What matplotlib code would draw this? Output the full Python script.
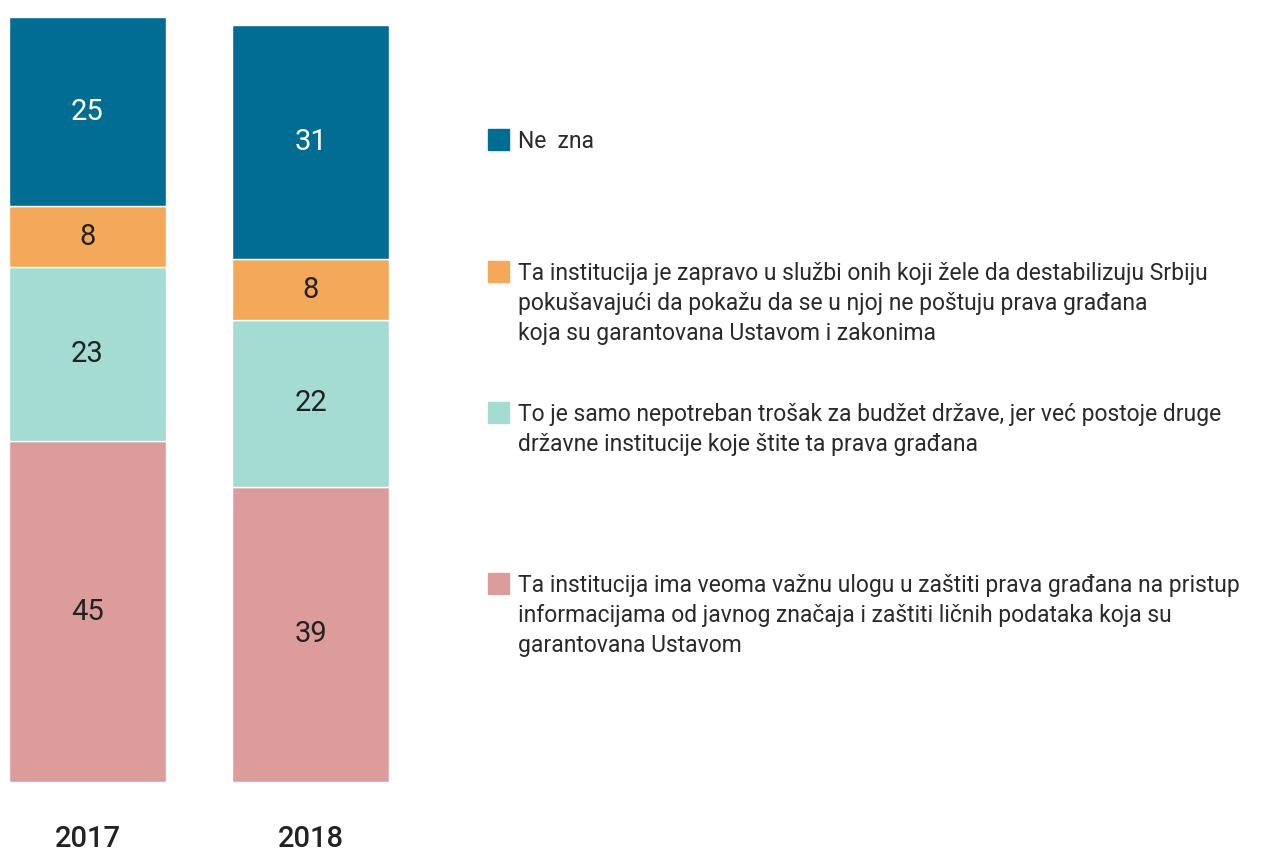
import matplotlib.pyplot as plt
from matplotlib.patches import Rectangle

# data
years = ['2017', '2018']
important = [45, 39]      # pink
not_needed = [23, 22]     # mint
destabilize = [8, 8]      # orange
dont_know = [25, 31]      # blue

series = [important, not_needed, destabilize, dont_know]
colors = ['#dc9c9c', '#a4dbd3', '#f3a85a', '#026d93']
value_colors = ['#222222', '#222222', '#222222', 'white']

legend_labels = [
    'Ne  zna',
    'Ta institucija je zapravo u službi onih koji žele da destabilizuju Srbiju\n'
    'pokušavajući da pokažu da se u njoj ne poštuju prava građana\n'
    'koja su garantovana Ustavom i zakonima',
    'To je samo nepotreban trošak za budžet države, jer već postoje druge\n'
    'državne institucije koje štite ta prava građana',
    'Ta institucija ima veoma važnu ulogu u zaštiti prava građana na pristup\n'
    'informacijama od javnog značaja i zaštiti ličnih podataka koja su\n'
    'garantovana Ustavom',
]
legend_colors = ['#026d93', '#f3a85a', '#a4dbd3', '#dc9c9c']
legend_y = [139, 271, 412, 583]  # first-line centre, pixels from top

plt.rcParams['font.family'] = ['Roboto', 'DejaVu Sans']

W, H = 1269, 852
fig = plt.figure(figsize=(W / 100, H / 100), dpi=100)
ax = fig.add_axes([9 / W, 70 / H, 380 / W, 765 / H])

x = [0, 1]
bottom = [0, 0]
for vals, col, tcol in zip(series, colors, value_colors):
    ax.bar(x, vals, bottom=bottom, width=0.704, color=col, edgecolor='white', linewidth=1)
    for xi, v, b in zip(x, vals, bottom):
        ax.text(xi, b + v / 2, str(v), ha='center', va='center', fontsize=21, color=tcol)
    bottom = [b + v for b, v in zip(bottom, vals)]

ax.set_xlim(-0.352, 1.352)
ax.set_ylim(0, 101)
ax.axis('off')

# year labels under the bars
for xi, yr in zip(x, years):
    ax.annotate(yr, (xi, 0), xytext=(0, -57), textcoords='offset pixels',
                ha='center', va='center', fontsize=21, color='#222222', fontweight='medium')

# legend drawn by hand to the right
for lab, col, yc in zip(legend_labels, legend_colors, legend_y):
    fig.patches.append(Rectangle((488 / W, 1 - (yc + 10.5) / H), 21 / W, 21 / H,
                                 transform=fig.transFigure, color=col))
    fig.text(518 / W, 1 - (yc - 9) / H, lab, ha='left', va='top', fontsize=16.5,
             color='#2a2a2a', linespacing=1.4)

fig.savefig('out.png', dpi=100)
